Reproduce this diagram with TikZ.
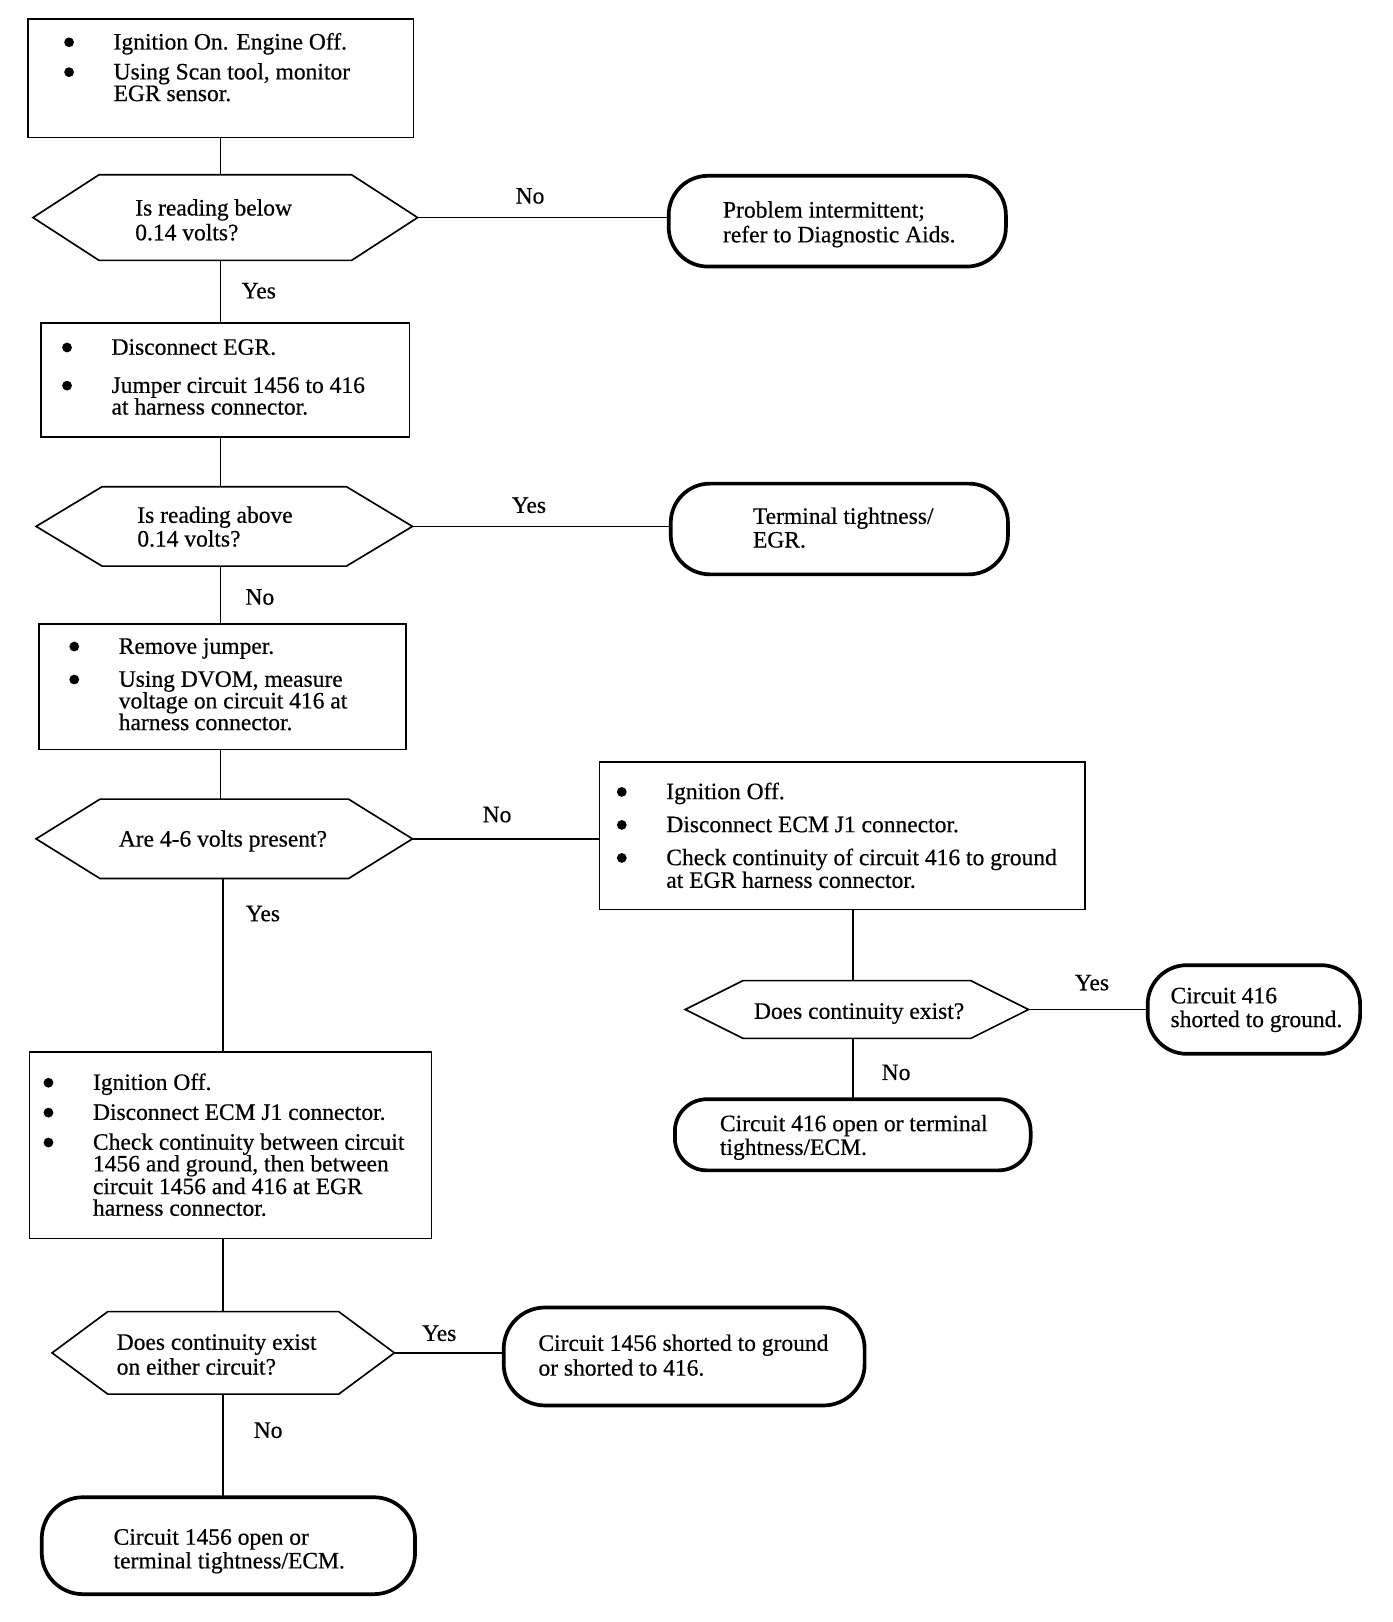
\documentclass[tikz,border=0pt]{standalone}
\usepackage{fontspec}
\setmainfont{Liberation Serif}[FakeBold=0.5]
\newcommand\hexdraw[2]{\draw[hexline] ([xshift=#2pt]#1.north west) -- ([xshift=-#2pt]#1.north east) -- (#1.east) -- ([xshift=-#2pt]#1.south east) -- ([xshift=#2pt]#1.south west) -- (#1.west) -- cycle;}
\begin{document}
\begin{tikzpicture}[x=1pt,y=-1pt,
  box/.style={draw, line width=1.6pt, rectangle, inner sep=0, outer sep=0},
  term/.style={draw, line width=3.6pt, rectangle, rounded corners=38pt, inner sep=0, outer sep=0},
  hexbb/.style={rectangle, inner sep=0, outer sep=0, draw=none},
  hexline/.style={line width=1.6pt, line join=miter},
  conn/.style={line width=1.6pt},
  txt/.style={anchor=base west, inner sep=0, font=\fontsize{22.8}{24}\selectfont},
  lab/.style={inner sep=0, font=\fontsize{22.8}{24}\selectfont},
  bul/.style={circle, fill, inner sep=0, minimum size=9.5pt}
]
\useasboundingbox (0,0) rectangle (1350,1573);
\fill[white] (0,0) rectangle (1350,1573);
\coordinate (spineA) at (214,0);
\coordinate (spineB) at (216,0);
\coordinate (spineC) at (827,0);

% shapes
\node[box, minimum width=374pt, minimum height=115pt] (b1) at (214,76) {};
\node[hexbb, minimum width=373pt, minimum height=83pt] (h1) at (218.5,211) {};
\hexdraw{h1}{64}
\node[term, minimum width=327pt, minimum height=88pt] (t1) at (812,214.5) {};
\node[box, minimum width=357pt, minimum height=111pt] (b2) at (218.5,368.5) {};
\node[hexbb, minimum width=365pt, minimum height=77pt] (h2) at (217.5,510.5) {};
\hexdraw{h2}{64}
\node[term, minimum width=327pt, minimum height=88pt] (t2) at (814,513) {};
\node[box, minimum width=356pt, minimum height=122pt] (b3) at (216,666) {};
\node[hexbb, minimum width=365pt, minimum height=77pt] (h3) at (217.5,813.5) {};
\hexdraw{h3}{62}
\node[box, minimum width=471pt, minimum height=143pt] (b4) at (817,810.5) {};
\node[hexbb, minimum width=333pt, minimum height=56pt] (h4) at (831,979) {};
\hexdraw{h4}{56}
\node[term, minimum width=206pt, minimum height=86pt] (t3) at (1216,979) {};
\node[term, rounded corners=31pt, minimum width=345pt, minimum height=69pt] (t4) at (827,1100.5) {};
\node[box, minimum width=390pt, minimum height=181pt] (b5) at (223.5,1110.5) {};
\node[hexbb, minimum width=332pt, minimum height=80pt] (h5) at (216.5,1312) {};
\hexdraw{h5}{54}
\node[term, rounded corners=40pt, minimum width=350pt, minimum height=95pt] (t5) at (663.5,1315.5) {};
\node[term, rounded corners=40pt, minimum width=362pt, minimum height=94pt] (t6) at (221.5,1499) {};

% connectors
\draw[conn] (b1.south -| spineA) -- (h1.north -| spineA);
\draw[conn] (h1.east) -- (h1.east -| t1.west);
\draw[conn] (h1.south -| spineA) -- (b2.north -| spineA);
\draw[conn] (b2.south -| spineA) -- (h2.north -| spineA);
\draw[conn] (h2.east) -- (h2.east -| t2.west);
\draw[conn] (h2.south -| spineA) -- (b3.north -| spineA);
\draw[conn] (b3.south -| spineA) -- (h3.north -| spineA);
\draw[conn] (h3.east) -- (h3.east -| b4.west);
\draw[conn] (b4.south -| spineC) -- (h4.north -| spineC);
\draw[conn] (h4.east) -- (h4.east -| t3.west);
\draw[conn] (h4.south -| spineC) -- (t4.north -| spineC);
\draw[conn] (h3.south -| spineB) -- (b5.north -| spineB);
\draw[conn] (b5.south -| spineB) -- (h5.north -| spineB);
\draw[conn] (h5.east) -- (h5.east -| t5.west);
\draw[conn] (h5.south -| spineB) -- (t6.north -| spineB);

% labels
\node[lab] (l1) at (514,190) {No};
\node[lab] (l2) at (251,282) {Yes};
\node[lab] (l3) at (513,490) {Yes};
\node[lab] (l4) at (252,579) {No};
\node[lab] (l5) at (482,790) {No};
\node[lab] (l6) at (255,886) {Yes};
\node[lab] (l7) at (1059,953) {Yes};
\node[lab] (l8) at (869,1040) {No};
\node[lab] (l9) at (426,1293) {Yes};
\node[lab] (l10) at (260,1387) {No};

% box 1
\node[bul] (d11) at (67,41) {};
\node[bul] (d12) at (67,70) {};
\node[txt] (x11) at (110,48) {Ignition On. Engine Off.};
\node[txt] (x12) at (110,77) {Using Scan tool, monitor};
\node[txt] (x13) at (110,98) {EGR sensor.};
% hex 1
\node[txt] (y11) at (131,209) {Is reading below};
\node[txt] (y12) at (131,233) {0.14 volts?};
% term 1
\node[txt] (z11) at (701,211) {Problem intermittent;};
\node[txt] (z12) at (701,235) {refer to Diagnostic Aids.};
% box 2
\node[bul] (d21) at (65,337) {};
\node[bul] (d22) at (65,374) {};
\node[txt] (x21) at (108,344) {Disconnect EGR.};
\node[txt] (x22) at (108,381) {Jumper circuit 1456 to 416};
\node[txt] (x23) at (108,402) {at harness connector.};
% hex 2
\node[txt] (y21) at (133,507) {Is reading above};
\node[txt] (y22) at (133,530) {0.14 volts?};
% term 2
\node[txt] (z21) at (730,508) {Terminal tightness/};
\node[txt] (z22) at (730,531) {EGR.};
% box 3
\node[bul] (d31) at (72,627) {};
\node[bul] (d32) at (72,659) {};
\node[txt] (x31) at (115,634) {Remove jumper.};
\node[txt] (x32) at (115,666) {Using DVOM, measure};
\node[txt] (x33) at (115,687) {voltage on circuit 416 at};
\node[txt] (x34) at (115,708) {harness connector.};
% hex 3
\node[txt] (y31) at (115,821) {Are 4-6 volts present?};
% box 4
\node[bul] (d41) at (603,768) {};
\node[bul] (d42) at (603,800) {};
\node[bul] (d43) at (603,832) {};
\node[txt] (x41) at (646,775) {Ignition Off.};
\node[txt] (x42) at (646,807) {Disconnect ECM J1 connector.};
\node[txt] (x43) at (646,839) {Check continuity of circuit 416 to ground};
\node[txt] (x44) at (646,861) {at EGR harness connector.};
% hex 4
\node[txt] (y41) at (731,988) {Does continuity exist?};
% term 3
\node[txt] (z31) at (1135,973) {Circuit 416};
\node[txt] (z32) at (1135,996) {shorted to ground.};
% term 4
\node[txt] (z41) at (698,1097) {Circuit 416 open or terminal};
\node[txt] (z42) at (698,1120) {tightness/ECM.};
% box 5
\node[bul] (d51) at (47,1050) {};
\node[bul] (d52) at (47,1079) {};
\node[bul] (d53) at (47,1108) {};
\node[txt] (x51) at (90,1057) {Ignition Off.};
\node[txt] (x52) at (90,1086) {Disconnect ECM J1 connector.};
\node[txt] (x53) at (90,1115) {Check continuity between circuit};
\node[txt] (x54) at (90,1136) {1456 and ground, then between};
\node[txt] (x55) at (90,1158) {circuit 1456 and 416 at EGR};
\node[txt] (x56) at (90,1179) {harness connector.};
% hex 5
\node[txt] (y51) at (113,1309) {Does continuity exist};
\node[txt] (y52) at (113,1333) {on either circuit?};
% term 5
\node[txt] (z51) at (522,1310) {Circuit 1456 shorted to ground};
\node[txt] (z52) at (522,1334) {or shorted to 416.};
% term 6
\node[txt] (z61) at (110,1498) {Circuit 1456 open or};
\node[txt] (z62) at (110,1521) {terminal tightness/ECM.};
\end{tikzpicture}
\end{document}
